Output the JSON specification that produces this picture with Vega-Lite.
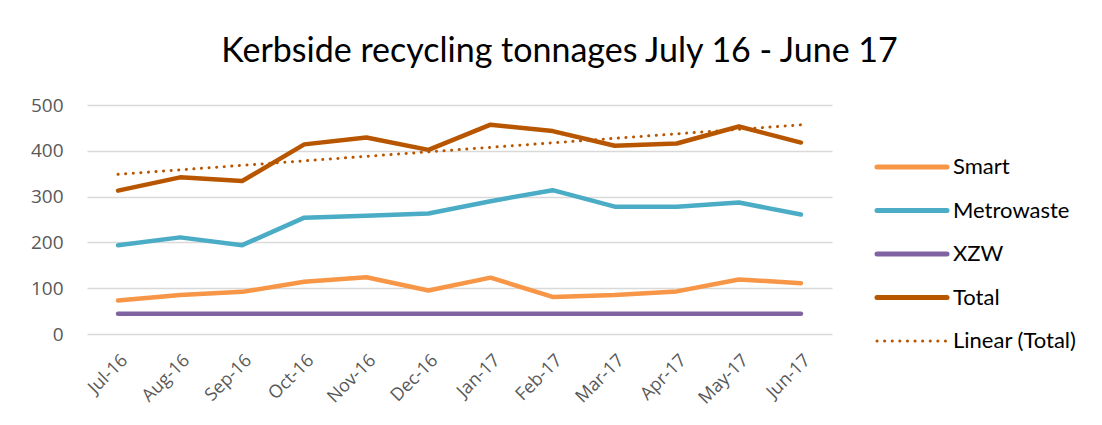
{
  "$schema": "https://vega.github.io/schema/vega-lite/v6.json",
  "width": 745,
  "height": 229,
  "autosize": {"type": "none"},
  "padding": {"left": 87, "top": 105, "right": 270, "bottom": 91},
  "background": "white",
  "config": {"view": {"stroke": null}},
  "title": {
    "text": "Kerbside recycling tonnages July 16 - June 17",
    "font": "Lato",
    "fontSize": 34,
    "fontWeight": "normal",
    "color": "#000000",
    "anchor": "middle",
    "dx": 100,
    "offset": 27
  },
  "data": {
    "values": [
      {"i": 0, "month": "Jul-16", "series": "Smart", "value": 73},
      {"i": 1, "month": "Aug-16", "series": "Smart", "value": 85},
      {"i": 2, "month": "Sep-16", "series": "Smart", "value": 92},
      {"i": 3, "month": "Oct-16", "series": "Smart", "value": 114},
      {"i": 4, "month": "Nov-16", "series": "Smart", "value": 124},
      {"i": 5, "month": "Dec-16", "series": "Smart", "value": 95},
      {"i": 6, "month": "Jan-17", "series": "Smart", "value": 123},
      {"i": 7, "month": "Feb-17", "series": "Smart", "value": 81},
      {"i": 8, "month": "Mar-17", "series": "Smart", "value": 85},
      {"i": 9, "month": "Apr-17", "series": "Smart", "value": 93},
      {"i": 10, "month": "May-17", "series": "Smart", "value": 119},
      {"i": 11, "month": "Jun-17", "series": "Smart", "value": 111},
      {"i": 0, "month": "Jul-16", "series": "Metrowaste", "value": 194},
      {"i": 1, "month": "Aug-16", "series": "Metrowaste", "value": 211},
      {"i": 2, "month": "Sep-16", "series": "Metrowaste", "value": 194},
      {"i": 3, "month": "Oct-16", "series": "Metrowaste", "value": 254},
      {"i": 4, "month": "Nov-16", "series": "Metrowaste", "value": 258},
      {"i": 5, "month": "Dec-16", "series": "Metrowaste", "value": 263},
      {"i": 6, "month": "Jan-17", "series": "Metrowaste", "value": 290},
      {"i": 7, "month": "Feb-17", "series": "Metrowaste", "value": 314},
      {"i": 8, "month": "Mar-17", "series": "Metrowaste", "value": 278},
      {"i": 9, "month": "Apr-17", "series": "Metrowaste", "value": 278},
      {"i": 10, "month": "May-17", "series": "Metrowaste", "value": 287},
      {"i": 11, "month": "Jun-17", "series": "Metrowaste", "value": 261},
      {"i": 0, "month": "Jul-16", "series": "XZW", "value": 44},
      {"i": 1, "month": "Aug-16", "series": "XZW", "value": 44},
      {"i": 2, "month": "Sep-16", "series": "XZW", "value": 44},
      {"i": 3, "month": "Oct-16", "series": "XZW", "value": 44},
      {"i": 4, "month": "Nov-16", "series": "XZW", "value": 44},
      {"i": 5, "month": "Dec-16", "series": "XZW", "value": 44},
      {"i": 6, "month": "Jan-17", "series": "XZW", "value": 44},
      {"i": 7, "month": "Feb-17", "series": "XZW", "value": 44},
      {"i": 8, "month": "Mar-17", "series": "XZW", "value": 44},
      {"i": 9, "month": "Apr-17", "series": "XZW", "value": 44},
      {"i": 10, "month": "May-17", "series": "XZW", "value": 44},
      {"i": 11, "month": "Jun-17", "series": "XZW", "value": 44},
      {"i": 0, "month": "Jul-16", "series": "Total", "value": 313},
      {"i": 1, "month": "Aug-16", "series": "Total", "value": 342},
      {"i": 2, "month": "Sep-16", "series": "Total", "value": 334},
      {"i": 3, "month": "Oct-16", "series": "Total", "value": 414},
      {"i": 4, "month": "Nov-16", "series": "Total", "value": 429},
      {"i": 5, "month": "Dec-16", "series": "Total", "value": 402},
      {"i": 6, "month": "Jan-17", "series": "Total", "value": 457},
      {"i": 7, "month": "Feb-17", "series": "Total", "value": 443},
      {"i": 8, "month": "Mar-17", "series": "Total", "value": 411},
      {"i": 9, "month": "Apr-17", "series": "Total", "value": 416},
      {"i": 10, "month": "May-17", "series": "Total", "value": 453},
      {"i": 11, "month": "Jun-17", "series": "Total", "value": 418}
    ]
  },
  "layer": [
    {
      "mark": {"type": "line", "strokeWidth": 4.5, "strokeCap": "round", "strokeJoin": "round"},
      "encoding": {
        "x": {
          "field": "i",
          "type": "quantitative",
          "scale": {"domain": [-0.5, 11.5], "nice": false, "zero": false},
          "axis": {
            "title": null,
            "values": [0, 1, 2, 3, 4, 5, 6, 7, 8, 9, 10, 11],
            "labelExpr": "['Jul-16','Aug-16','Sep-16','Oct-16','Nov-16','Dec-16','Jan-17','Feb-17','Mar-17','Apr-17','May-17','Jun-17'][datum.value]",
            "labelAngle": -45,
            "labelFont": "Open Sans",
            "labelFontSize": 18,
            "labelColor": "#595959",
            "labelPadding": 17,
            "ticks": false,
            "grid": false,
            "domain": false
          }
        },
        "y": {
          "field": "value",
          "type": "quantitative",
          "scale": {"domain": [0, 500], "nice": false},
          "axis": {
            "title": null,
            "values": [0, 100, 200, 300, 400, 500],
            "labelFont": "Open Sans",
            "labelFontSize": 19,
            "labelColor": "#595959",
            "labelPadding": 24,
            "ticks": false,
            "domain": false,
            "grid": true,
            "gridColor": "#D9D9D9",
            "gridWidth": 1.3
          }
        },
        "color": {
          "field": "series",
          "type": "nominal",
          "scale": {
            "domain": ["Smart", "Metrowaste", "XZW", "Total", "Linear (Total)"],
            "range": ["#F79646", "#4BACC6", "#8064A2", "#B85600", "#B85600"]
          },
          "legend": {
            "title": null,
            "orient": "none",
            "legendX": 814,
            "legendY": 51,
            "symbolType": "stroke",
            "symbolSize": 4900,
            "symbolStrokeWidth": 5,
            "labelFont": "Lato",
            "labelFontSize": 22,
            "labelColor": "#000000",
            "labelOffset": 30,
            "rowPadding": 21.5,
            "encode": {
              "symbols": {
                "update": {
                  "strokeDash": {"signal": "datum.value === 'Linear (Total)' ? [0.1, 7.5] : []"},
                  "strokeWidth": {"signal": "datum.value === 'Linear (Total)' ? 3 : 5"},
                  "strokeCap": {"value": "round"}
                }
              }
            }
          }
        }
      }
    },
    {
      "transform": [
        {"filter": {"field": "series", "equal": "Total"}},
        {"regression": "value", "on": "i"}
      ],
      "mark": {"type": "line", "color": "#B85600", "strokeWidth": 3, "strokeDash": [0.1, 7.5], "strokeCap": "round"},
      "encoding": {
        "x": {"field": "i", "type": "quantitative"},
        "y": {"field": "value", "type": "quantitative"}
      }
    }
  ]
}
